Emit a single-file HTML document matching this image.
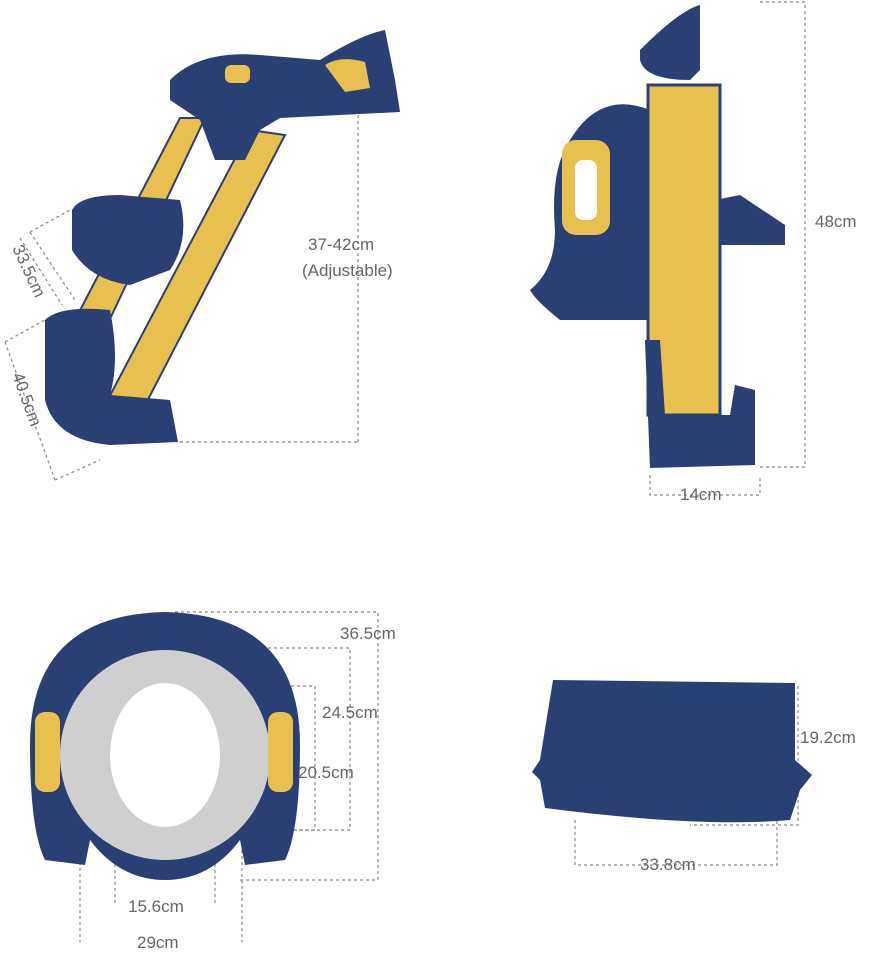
<!DOCTYPE html>
<html><head><meta charset="utf-8"><style>
html,body{margin:0;padding:0;background:#fff;}
svg{display:block;}
text{font-family:"Liberation Sans",sans-serif;fill:#666;font-size:17px;}
</style></head><body>
<svg width="870" height="953" viewBox="0 0 870 953" xmlns="http://www.w3.org/2000/svg">
<g stroke="#888" stroke-width="1.2" stroke-dasharray="3,3" fill="none">
<path d="M358 115 V442 M180 442 H358"/>
<path d="M30 232 L70 210 M30 232 L75 300 M20 238 L62 305"/>
<path d="M5 342 L45 320 M5 342 L55 480 M55 480 L100 460"/>
<path d="M760 2 H805 V467 H760"/>
<path d="M650 475 V495 H760 V475"/>
<path d="M175 612 H378 V880 H240"/>
<path d="M220 648 H350 V830 H240"/>
<path d="M165 686 H315 V830 H250"/>
<path d="M115 720 V905 M215 720 V905"/>
<path d="M80 850 V942 M242 850 V942"/>
<path d="M780 686 H798 V825 H690"/>
<path d="M575 820 V865 H777 V820"/>
</g>
<g>
<polygon points="180,118 205,118 100,340 75,320" fill="#e8c04f" stroke="#2a3f73" stroke-width="2"/>
<polygon points="250,130 285,135 140,415 105,405" fill="#e8c04f" stroke="#2a3f73" stroke-width="2"/>
<path d="M72 210 Q80 195 120 195 L180 200 Q190 240 170 270 L130 285 Q90 280 72 250 Z" fill="#2a3f73"/>
<path d="M45 320 Q60 305 110 310 Q120 360 110 395 L170 400 L178 442 L110 445 Q55 440 45 400 Z" fill="#2a3f73"/>
<path d="M170 80 Q200 50 260 55 L320 60 Q360 35 385 30 L395 80 L400 112 L280 118 L260 130 L245 160 L215 160 L200 120 L170 100 Z" fill="#2a3f73"/>
<rect x="225" y="65" width="25" height="18" rx="6" fill="#e8c04f"/>
<path d="M325 65 Q340 55 365 62 L370 88 L345 92 Z" fill="#e8c04f"/>
</g>
<text x="308" y="250">37-42cm</text>
<text x="302" y="276">(Adjustable)</text>
<text x="0" y="0" transform="translate(12,248) rotate(65)">33.5cm</text>
<text x="0" y="0" transform="translate(12,375) rotate(70)">40.5cm</text>
<path d="M640 50 Q680 10 700 5 L700 70 L690 80 Q645 80 640 60 Z" fill="#2a3f73"/>
<path d="M570 140 Q600 90 650 110 L660 320 L560 320 Q535 300 530 290 Q555 270 555 230 Q550 170 570 140 Z" fill="#2a3f73"/>
<rect x="562" y="140" width="48" height="95" rx="14" fill="#e8c04f"/>
<rect x="575" y="160" width="22" height="60" rx="8" fill="#fff"/>
<path d="M715 200 L740 195 L785 225 L785 245 L715 245 Z" fill="#2a3f73"/>
<rect x="648" y="85" width="72" height="330" fill="#e8c04f" stroke="#2a3f73" stroke-width="3"/>
<path d="M645 340 L660 340 L665 415 L730 415 L735 385 L755 390 L755 465 L650 468 Z" fill="#2a3f73"/>
<text x="815" y="227">48cm</text>
<text x="680" y="500">14cm</text>
<path d="M165 612 Q300 615 300 745 Q300 830 285 860 L245 865 L240 840 Q210 880 165 880 Q120 880 90 840 L85 865 L45 860 Q30 830 30 745 Q30 615 165 612 Z" fill="#2a3f73"/>
<ellipse cx="165" cy="755" rx="105" ry="105" fill="#cfcfcf"/>
<ellipse cx="165" cy="755" rx="55" ry="72" fill="#fff"/>
<rect x="35" y="712" width="25" height="80" rx="10" fill="#e8c04f"/>
<rect x="268" y="712" width="25" height="80" rx="10" fill="#e8c04f"/>
<text x="340" y="639">36.5cm</text>
<text x="322" y="718">24.5cm</text>
<text x="298" y="778">20.5cm</text>
<text x="128" y="912">15.6cm</text>
<text x="137" y="948">29cm</text>
<path d="M553 680 L795 683 L795 760 L812 775 L800 790 L790 820 Q700 828 545 808 L540 780 L532 772 L540 760 Z" fill="#2a3f73"/>
<text x="800" y="743">19.2cm</text>
<text x="640" y="870">33.8cm</text>
</svg>
</body></html>
